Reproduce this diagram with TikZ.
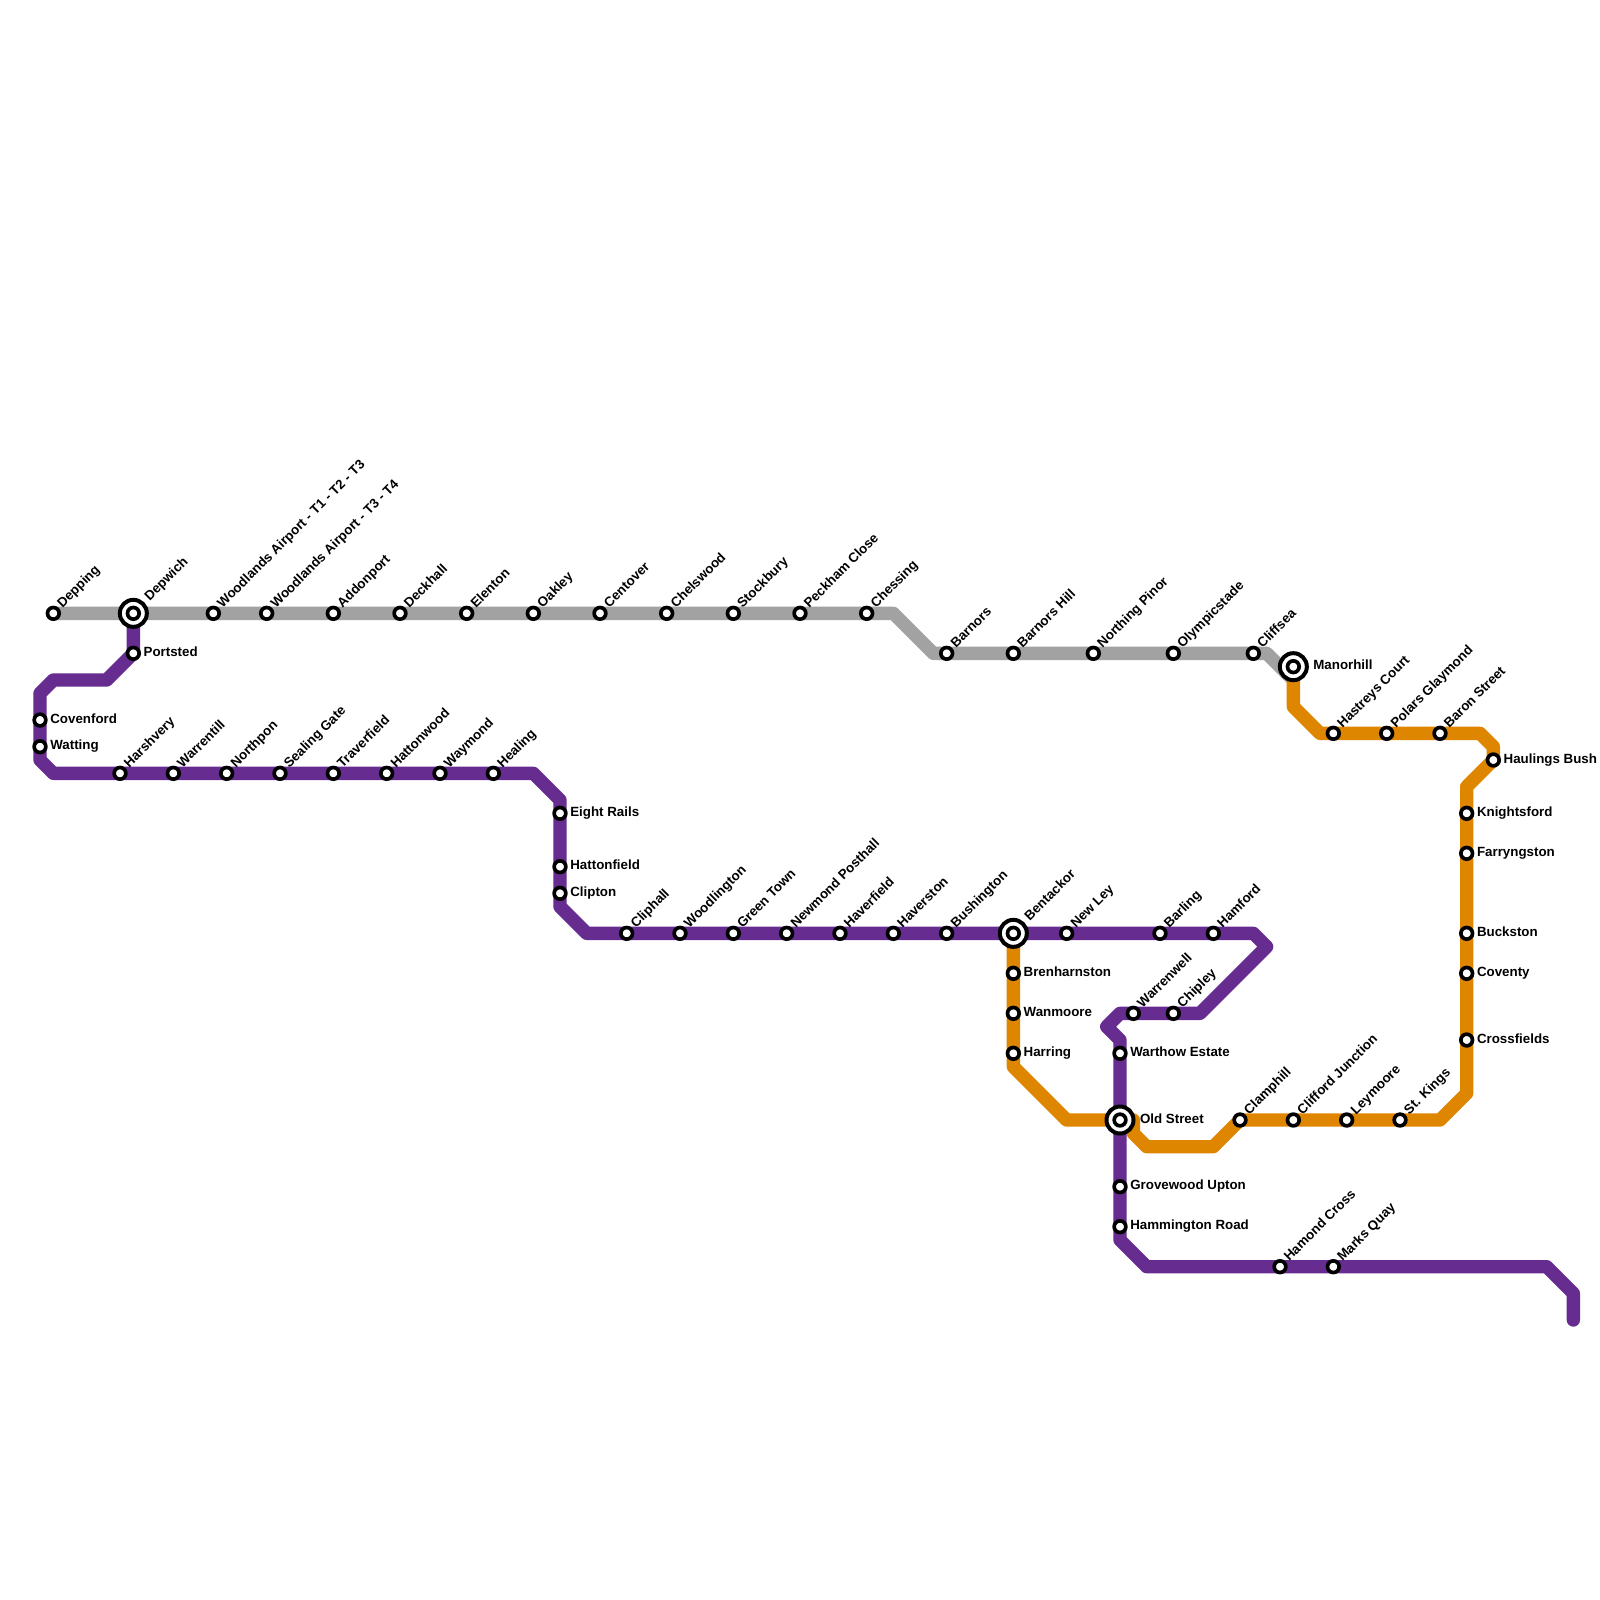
\documentclass[tikz,border=0pt]{standalone}
\usepackage{fontspec}
\setmainfont{Liberation Sans}
\usetikzlibrary{backgrounds}
\definecolor{mgrey}{HTML}{A2A2A2}
\definecolor{mpurple}{HTML}{662C90}
\definecolor{morange}{HTML}{DF8600}
\tikzset{
  metro/.style={line width=0.4cm,line join=round,line cap=round},
  stn/.style={circle,draw=black,fill=white,line width=0.11cm,minimum size=0.35cm,inner sep=0pt,outer sep=0pt},
  hub/.style={circle,draw=black,fill=white,line width=0.12cm,minimum size=0.81cm,inner sep=0pt,outer sep=0pt},
  lab/.style={font=\fontsize{11.38}{13}\selectfont\bfseries,text=black,inner sep=0pt,outer sep=0pt,anchor=mid west},
  labr/.style={lab,xshift=0.31cm,yshift=0cm},
  labhub/.style={lab,xshift=0.6cm,yshift=0cm},
  labd/.style={lab,xshift=0.215cm,yshift=0.21cm,rotate=45},
  labdhub/.style={lab,xshift=0.43cm,yshift=0.43cm,rotate=45},
}
% \SD diagonal label, \SR right label
\newcommand{\SD}[4]{\node[stn] (#1) at (#2,#3) {}; \node[labd] (#1-t) at (#2,#3) {#4};}
\newcommand{\SR}[4]{\node[stn] (#1) at (#2,#3) {}; \node[labr] (#1-t) at (#2,#3) {#4};}
\newcommand{\HD}[4]{\node[hub] (#1-h) at (#2,#3) {}; \node[stn] (#1) at (#2,#3) {}; \node[labdhub] (#1-t) at (#2,#3) {#4};}
\newcommand{\HR}[4]{\node[hub] (#1-h) at (#2,#3) {}; \node[stn] (#1) at (#2,#3) {}; \node[labhub] (#1-t) at (#2,#3) {#4};}
\begin{document}
\begin{tikzpicture}[x=0.4cm,y=-0.4cm]
\useasboundingbox (0,0) rectangle (120,120);
% grey
\SD{depping}{4}{46}{Depping}
\HD{depwich}{10}{46}{Depwich}
\SD{wat3}{16}{46}{Woodlands Airport - T1 - T2 - T3}
\SD{wat4}{20}{46}{Woodlands Airport - T3 - T4}
\SD{addonport}{25}{46}{Addonport}
\SD{deckhall}{30}{46}{Deckhall}
\SD{elenton}{35}{46}{Elenton}
\SD{oakley}{40}{46}{Oakley}
\SD{centover}{45}{46}{Centover}
\SD{chelswood}{50}{46}{Chelswood}
\SD{stockbury}{55}{46}{Stockbury}
\SD{peckham}{60}{46}{Peckham Close}
\SD{chessing}{65}{46}{Chessing}
\SD{barnors}{71}{49}{Barnors}
\SD{barnorshill}{76}{49}{Barnors Hill}
\SD{northing}{82}{49}{Northing Pinor}
\SD{olympic}{88}{49}{Olympicstade}
\SD{cliffsea}{94}{49}{Cliffsea}
\HR{manorhill}{97}{50}{Manorhill}
% purple
\SR{portsted}{10}{49}{Portsted}
\SR{covenford}{3}{54}{Covenford}
\SR{watting}{3}{56}{Watting}
\SD{harshvery}{9}{58}{Harshvery}
\SD{warrentill}{13}{58}{Warrentill}
\SD{northpon}{17}{58}{Northpon}
\SD{sealing}{21}{58}{Sealing Gate}
\SD{traverfield}{25}{58}{Traverfield}
\SD{hattonwood}{29}{58}{Hattonwood}
\SD{waymond}{33}{58}{Waymond}
\SD{healing}{37}{58}{Healing}
\SR{eightrails}{42}{61}{Eight Rails}
\SR{hattonfield}{42}{65}{Hattonfield}
\SR{clipton}{42}{67}{Clipton}
\SD{cliphall}{47}{70}{Cliphall}
\SD{woodlington}{51}{70}{Woodlington}
\SD{greentown}{55}{70}{Green Town}
\SD{newmond}{59}{70}{Newmond Posthall}
\SD{haverfield}{63}{70}{Haverfield}
\SD{haverston}{67}{70}{Haverston}
\SD{bushington}{71}{70}{Bushington}
\HD{bentackor}{76}{70}{Bentackor}
\SD{newley}{80}{70}{New Ley}
\SD{barling}{87}{70}{Barling}
\SD{hamford}{91}{70}{Hamford}
\SD{warrenwell}{85}{76}{Warrenwell}
\SD{chipley}{88}{76}{Chipley}
\SR{warthow}{84}{79}{Warthow Estate}
\HR{oldstreet}{84}{84}{Old Street}
\SR{grovewood}{84}{89}{Grovewood Upton}
\SR{hammington}{84}{92}{Hammington Road}
\SD{hamond}{96}{95}{Hamond Cross}
\SD{marks}{100}{95}{Marks Quay}
% orange
\SR{brenharnston}{76}{73}{Brenharnston}
\SR{wanmoore}{76}{76}{Wanmoore}
\SR{harring}{76}{79}{Harring}
\SD{clamphill}{93}{84}{Clamphill}
\SD{clifford}{97}{84}{Clifford Junction}
\SD{leymoore}{101}{84}{Leymoore}
\SD{stkings}{105}{84}{St. Kings}
\SR{crossfields}{110}{78}{Crossfields}
\SR{coventy}{110}{73}{Coventy}
\SR{buckston}{110}{70}{Buckston}
\SR{farryngston}{110}{64}{Farryngston}
\SR{knightsford}{110}{61}{Knightsford}
\SR{haulings}{112}{57}{Haulings Bush}
\SD{baron}{108}{55}{Baron Street}
\SD{polars}{104}{55}{Polars Glaymond}
\SD{hastreys}{100}{55}{Hastreys Court}
% bends and free ends
\coordinate (g1) at (67,46); \coordinate (g2) at (70,49); \coordinate (g3) at (95,49); \coordinate (g4) at (97,51);
\coordinate (p1) at (8,51); \coordinate (p2) at (4,51); \coordinate (p3) at (3,52);
\coordinate (p4) at (3,57); \coordinate (p5) at (4,58); \coordinate (p6) at (40,58);
\coordinate (p7) at (42,60); \coordinate (p8) at (42,68); \coordinate (p9) at (44,70);
\coordinate (p10) at (94,70); \coordinate (p11) at (95,71); \coordinate (p12) at (90,76);
\coordinate (p13) at (84,76); \coordinate (p14) at (83,77); \coordinate (p15) at (84,78);
\coordinate (p16) at (84,93); \coordinate (p17) at (86,95); \coordinate (p18) at (116,95);
\coordinate (p19) at (118,97); \coordinate (p20) at (118,99);
\coordinate (o1) at (76,80); \coordinate (o2) at (80,84); \coordinate (o3) at (85,84);
\coordinate (o4) at (85,85); \coordinate (o5) at (86,86); \coordinate (o6) at (91,86);
\coordinate (o7) at (108,84); \coordinate (o8) at (110,82); \coordinate (o9) at (110,59);
\coordinate (o10) at (112,56); \coordinate (o11) at (111,55); \coordinate (o12) at (99,55);
\coordinate (o13) at (97,53);
\begin{pgfonlayer}{background}
\draw[metro,mgrey] (depping.center) -- (g1) -- (g2) -- (g3) -- (g4);
\draw[metro,morange] (bentackor.center) -- (o1) -- (o2) -- (oldstreet.center) -- (o3) -- (o4) -- (o5) -- (o6) -- (clamphill.center) -- (o7) -- (o8) -- (o9) -- (haulings.center) -- (o10) -- (o11) -- (o12) -- (o13) -- (manorhill.center);
\draw[metro,mpurple] (depwich.center) -- (portsted.center) -- (p1) -- (p2) -- (p3) -- (p4) -- (p5) -- (p6) -- (p7) -- (p8) -- (p9) -- (p10) -- (p11) -- (p12) -- (p13) -- (p14) -- (p15) -- (p16) -- (p17) -- (p18) -- (p19) -- (p20);
\end{pgfonlayer}
\end{tikzpicture}
\end{document}
